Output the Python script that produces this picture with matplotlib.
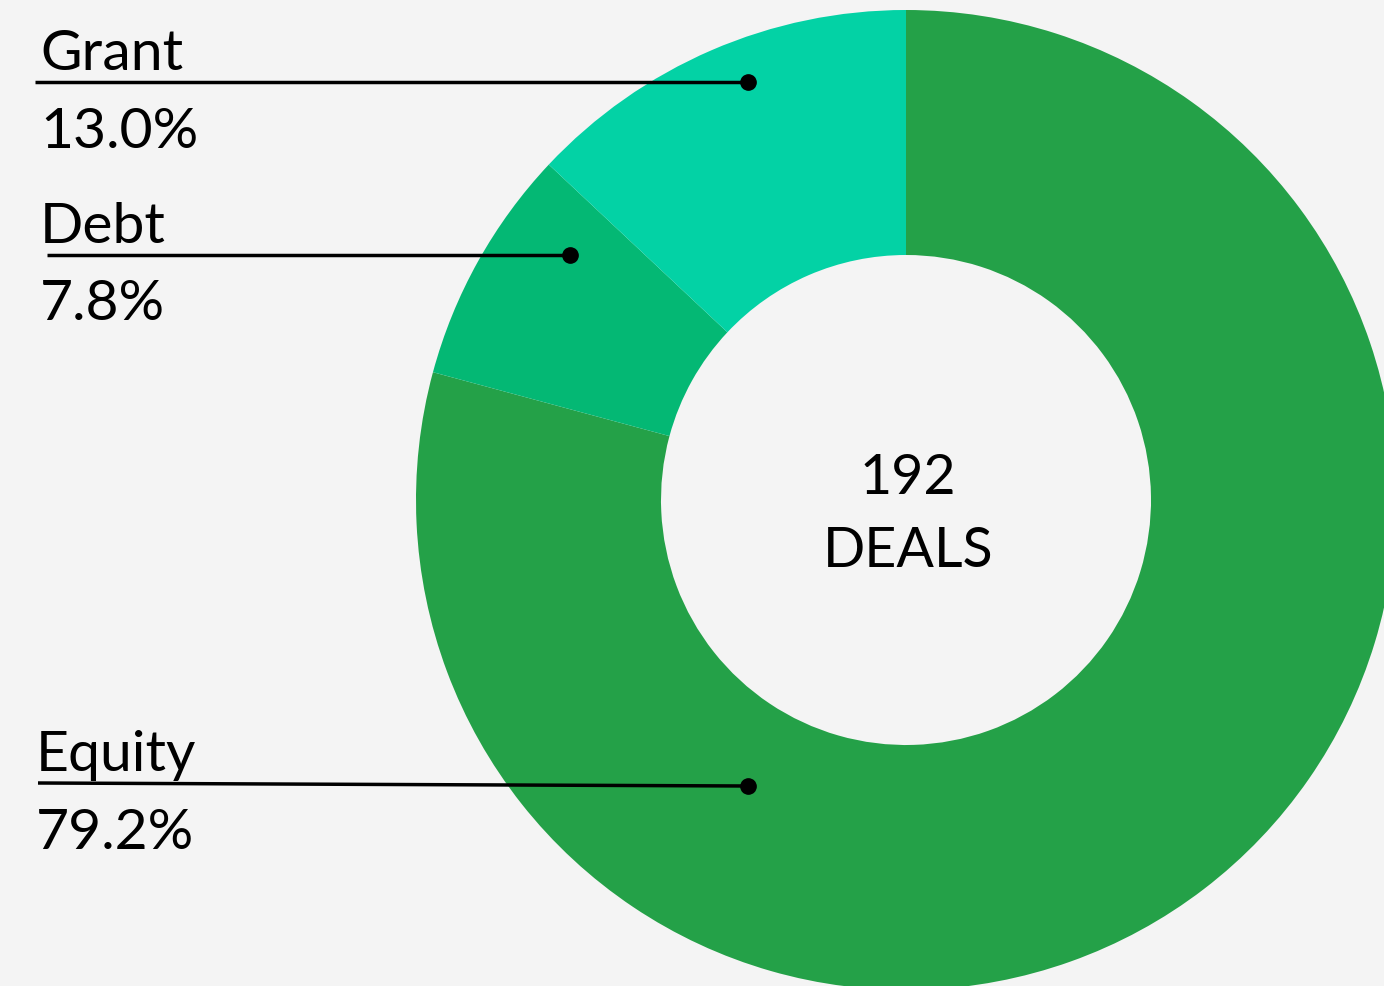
import matplotlib.pyplot as plt

W, H = 1384, 987

labels = ['Equity', 'Debt', 'Grant']
shares = [79.2, 7.8, 13.0]
colors = ['#24A148', '#04B874', '#03D2A5']
total_deals = 192

plt.rcParams['font.family'] = ['Lato', 'DejaVu Sans']

fig = plt.figure(figsize=(W / 100, H / 100), dpi=100, facecolor='#F4F4F4')
ax = fig.add_axes([0, 0, 1, 1])
ax.set_facecolor('#F4F4F4')
ax.set_xlim(0, W)
ax.set_ylim(0, H)
ax.set_aspect('equal')
ax.axis('off')


def py(y):
    # pixel row (from top) -> data y
    return H - y


# donut
ax.pie(shares, colors=colors, startangle=90, counterclock=False,
       center=(906, py(501)), radius=490,
       wedgeprops=dict(width=245, linewidth=0))
ax.set_xlim(0, W)
ax.set_ylim(0, H)

# centre text
ax.text(908, py(494), str(total_deals), ha='center', va='baseline', fontsize=40)
ax.text(908, py(567), 'DEALS', ha='center', va='baseline', fontsize=40)

# callouts: (label, value, text x, label baseline, pct baseline, line start, line end)
callouts = [
    ('Grant', shares[2], 40, 70, 148, (35, 83), (748, 83)),
    ('Debt', shares[1], 40, 243, 320, (47, 256), (570, 256)),
    ('Equity', shares[0], 36, 771, 849, (38, 784), (748, 787)),
]
for name, val, tx, yb1, yb2, p0, p1 in callouts:
    ax.text(tx, py(yb1), name, ha='left', va='baseline', fontsize=41)
    ax.text(tx, py(yb2), f'{val:.1f}%', ha='left', va='baseline', fontsize=41)
    ax.plot([p0[0], p1[0]], [py(p0[1]), py(p1[1])], color='black', lw=2.5,
            solid_capstyle='butt')
    ax.plot(p1[0], py(p1[1]), 'o', color='black', markersize=11)

fig.savefig('out.png', dpi=100, facecolor=fig.get_facecolor())
